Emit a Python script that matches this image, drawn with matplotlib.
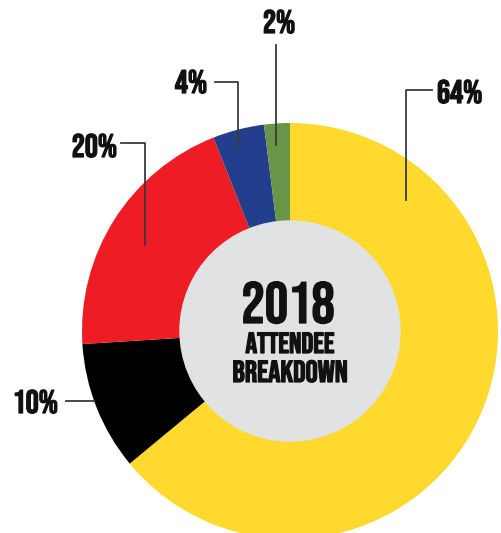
import matplotlib.pyplot as plt
import matplotlib.patheffects as pe
from matplotlib.patches import Circle

# datos del gráfico
etiquetas = ["64%", "10%", "20%", "4%", "2%"]
valores = [64, 10, 20, 4, 2]
colores = ["#FFD92E", "#000000", "#EE1C25", "#233E8C", "#6A9548"]

titulo = "2018"
subtitulo = ["ATTENDEE", "BREAKDOWN"]

FUENTE = ["Bebas Neue", "DejaVu Sans"]
TINTA = "#111111"
# un poco de trazo para que la letra salga más gruesa
grueso = [pe.withStroke(linewidth=0.9, foreground=TINTA)]

W, H = 502, 533
fig = plt.figure(figsize=(W / 100, H / 100), dpi=100)
ax = fig.add_axes([0, 0, 1, 1])

cx, cy, r = 290, H - 331, 208

ax.pie(valores, colors=colores, startangle=90, counterclock=False,
       radius=r, center=(cx, cy), frame=True,
       wedgeprops=dict(linewidth=0))
ax.set_xlim(0, W)
ax.set_ylim(0, H)
ax.set_aspect("equal")
ax.axis("off")

ax.add_patch(Circle((cx, cy), 110, color="#E1E2E4", zorder=3))

# texto central (línea base en píxeles desde arriba)
ax.text(cx - 2, H - 323, titulo, ha="center", va="baseline", fontsize=42,
        family=FUENTE, color=TINTA, zorder=4, path_effects=grueso)
ax.text(cx, H - 353, subtitulo[0], ha="center", va="baseline", fontsize=21,
        family=FUENTE, color=TINTA, zorder=4, path_effects=grueso)
ax.text(cx, H - 382, subtitulo[1], ha="center", va="baseline", fontsize=22,
        family=FUENTE, color=TINTA, zorder=4, path_effects=grueso)

# líneas guía (coordenadas en píxeles, y desde arriba)
guias = [
    [(406, 200), (406, 90), (432, 90)],
    [(94, 401), (66, 401)],
    [(145, 245), (145, 143), (121, 143)],
    [(238, 147), (238, 82), (215, 82)],
    [(276, 145), (276, 45)],
]
for pts in guias:
    xs = [p[0] for p in pts]
    ys = [H - p[1] for p in pts]
    ax.plot(xs, ys, color="#3a3a3a", linewidth=1.3, zorder=5)

# posición de cada etiqueta: x, línea base, alineación
posiciones = [
    (437, 103, "left"),
    (58, 413, "right"),
    (117, 157, "right"),
    (207, 93, "right"),
    (279, 33, "center"),
]
for lab, (x, y, ha) in zip(etiquetas, posiciones):
    ax.text(x, H - y, lab, ha=ha, va="baseline", fontsize=23.5,
            family=FUENTE, color=TINTA, zorder=6, path_effects=grueso)

fig.savefig("out.png", dpi=100)
